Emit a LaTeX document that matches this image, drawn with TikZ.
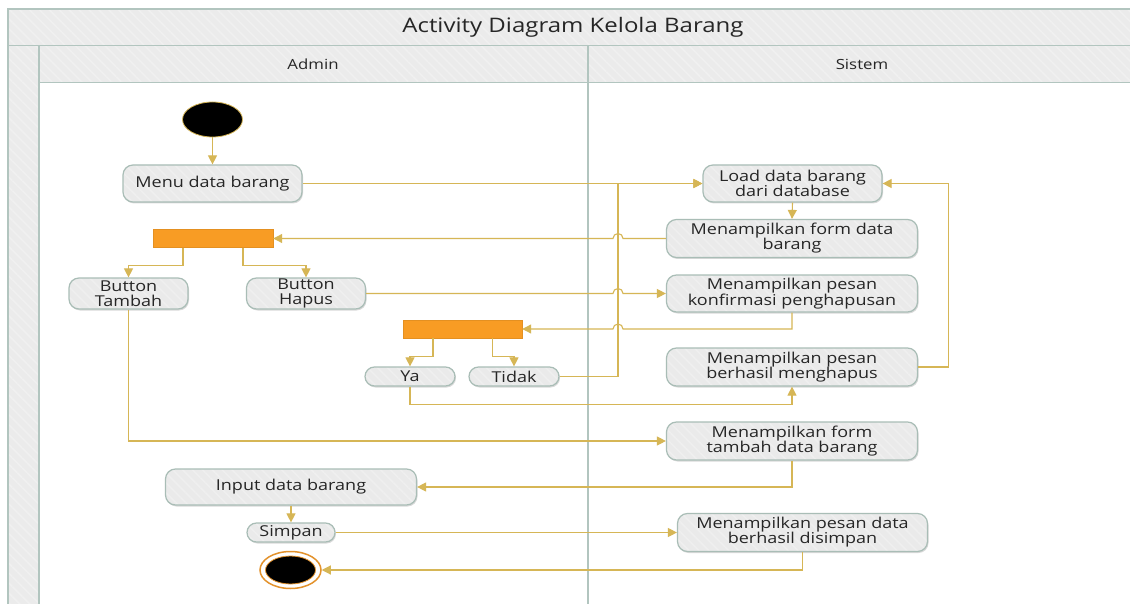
\documentclass[tikz,border=0pt]{standalone}
\usepackage{fontspec}
\setmainfont{Open Sans}[FakeStretch=1.2]
\usetikzlibrary{arrows.meta,patterns.meta,shapes.geometric,shadows,calc}

\definecolor{lanefill}{HTML}{EBEBEB}
\definecolor{lanestripe}{HTML}{F0F0F0}
\definecolor{laneline}{HTML}{B2C5BF}
\definecolor{nodefill}{HTML}{EAEAEA}
\definecolor{nodestripe}{HTML}{EFEFEF}
\definecolor{nodeline}{HTML}{A9BDB6}
\definecolor{flowc}{HTML}{D6B656}
\definecolor{barfill}{HTML}{F89C24}
\definecolor{endring}{HTML}{E3922C}
\definecolor{ink}{HTML}{262626}

\tikzset{
  hatched/.style={preaction={fill=lanefill},
    pattern={Lines[angle=-45,distance=7pt,line width=1.5pt]}, pattern color=lanestripe},
  act/.style={draw=nodeline, line width=1.2pt, rounded corners=10pt,
    drop shadow={shadow xshift=1pt, shadow yshift=-1.5pt, opacity=0.15, fill=black},
    preaction={fill=nodefill},
    pattern={Lines[angle=-45,distance=7pt,line width=1.5pt]}, pattern color=nodestripe,
    align=center, inner sep=0pt, text=ink, font=\fontsize{15}{15}\selectfont},
  pill/.style={act, rounded corners=9.5pt, minimum width=90, minimum height=19},
  bar/.style={rectangle, fill=barfill, draw=barfill!92!black, line width=0.4pt,
    minimum width=120, minimum height=18, inner sep=0pt},
  startnode/.style={ellipse, fill=black, draw=flowc, line width=0.8pt,
    minimum width=60, minimum height=35, inner sep=0pt},
  endnode/.style={ellipse, fill=white, draw=endring, line width=1.5pt,
    minimum width=61, minimum height=37, inner sep=0pt,
    path picture={\fill[black, draw=endring, line width=0.8pt]
      (path picture bounding box.center) ellipse [x radius=25, y radius=14];}},
  conn/.style={draw=flowc, line width=1.1pt, -{Triangle[length=9pt,width=9pt]}},
  lanetext/.style={text=ink, font=\fontsize{14}{16}\selectfont, inner sep=0pt},
}

\begin{document}
\begin{tikzpicture}[x=1pt,y=-1pt]
\useasboundingbox (0,0) rectangle (1130,604);

% swimlane frame
\begin{scope}
  \clip (0,0) rectangle (1130,604);
  \fill[white] (0,0) rectangle (1130,604);
  \path[hatched] (8,9) rectangle (1140,45.5);
  \path[hatched] (8,45.5) rectangle (39,610);
  \path[hatched] (39,45.5) rectangle (1140,82.5);
  \draw[laneline, line width=1.6pt] (1140,9) -- (8,9) -- (8,610);
  \draw[laneline, line width=1.6pt] (8,45.5) -- (1140,45.5);
  \draw[laneline, line width=1.6pt] (39,82.5) -- (1140,82.5);
  \draw[laneline, line width=1.6pt] (39,45.5) -- (39,610);
  \draw[laneline, line width=2pt] (588,45.5) -- (588,610);
\end{scope}

\node[text=ink, font=\fontsize{20}{24}\selectfont, inner sep=0pt] (title) at (573,27) {Activity Diagram Kelola Barang};
\node[lanetext] (laneadmin) at (313,64) {Admin};
\node[lanetext] (lanesistem) at (862,64) {Sistem};

% admin lane
\node[startnode] (start) at (212.5,119.5) {};
\node[act, minimum width=179, minimum height=37] (menu) at (212.5,183.5) {Menu data barang};
\node[bar] (bar1) at (213,238.5) {};
\node[act, minimum width=119, minimum height=31] (tambah) at (128.5,293.5) {Button\\Tambah};
\node[act, minimum width=119, minimum height=31] (hapus) at (306,293.5) {Button\\Hapus};
\node[bar, minimum width=119] (bar2) at (462.5,329) {};
\node[pill] (ya) at (410,376.5) {Ya};
\node[pill] (tidak) at (514,376.5) {Tidak};
\node[act, minimum width=251, minimum height=36] (input) at (291,487) {Input data barang};
\node[pill, minimum width=88] (simpan) at (291,532.5) {Simpan};
\node[endnode] (end) at (290.5,570) {};

% system lane
\node[act, minimum width=179, minimum height=37] (load) at (792.5,183.5) {Load data barang\\dari database};
\node[act, minimum width=251, minimum height=38] (formdata) at (792,238.5) {Menampilkan form data\\barang};
\node[act, minimum width=251, minimum height=37] (konfirm) at (792,293.5) {Menampilkan pesan\\konfirmasi penghapusan};
\node[act, minimum width=251, minimum height=38] (hapusok) at (792,367) {Menampilkan pesan\\berhasil menghapus};
\node[act, minimum width=251, minimum height=38] (formtambah) at (792,441) {Menampilkan form\\tambah data barang};
\node[act, minimum width=250, minimum height=38] (simpanok) at (802.5,532.5) {Menampilkan pesan data\\berhasil disimpan};

% column of the "Tidak" return line, where other lines hop over it
\coordinate (hopcol) at (618,0);

% connectors
\draw[conn] (start) -- (menu);
\draw[conn] (menu.east) -- (load.west);
\draw[conn] (load.south) -- (formdata.north);
\draw[conn] (formdata.west) -- ([xshift=5]hopcol |- formdata.west)
  arc[start angle=0, end angle=-180, radius=5] -- (bar1.east);
\draw[conn] ([xshift=-30]bar1.south) |- ([yshift=12]tambah.north) -- (tambah.north);
\draw[conn] ([xshift=30]bar1.south) |- ([yshift=12]hapus.north) -- (hapus.north);
\draw[conn] (hapus.east) -- ([xshift=-5]hopcol |- hapus.east)
  arc[start angle=180, end angle=360, radius=5] -- (konfirm.west);
\draw[conn] (konfirm.south) -- (konfirm.south |- bar2.east)
  -- ([xshift=5]hopcol |- bar2.east)
  arc[start angle=0, end angle=-180, radius=5] -- (bar2.east);
\draw[conn] ([xshift=-29.5]bar2.south) |- ([yshift=10]ya.north) -- (ya.north);
\draw[conn] ([xshift=30]bar2.south) |- ([yshift=10]tidak.north) -- (tidak.north);
\draw[conn] (ya.south) |- ($(hapusok.south)+(0,18)$) -- (hapusok.south);
\draw[conn] (tidak.east) -| (hopcol |- load.west) -- (load.west);
\draw[conn] (hapusok.east) -- ++(30,0) |- (load.east);
\draw[conn] (tambah.south) |- (formtambah.west);
\draw[conn] (formtambah.south) |- (input.east);
\draw[conn] (input.south) -- (simpan.north);
\draw[conn] (simpan.east) -- (simpanok.west);
\draw[conn] (simpanok.south) |- (end.east);
\end{tikzpicture}
\end{document}
